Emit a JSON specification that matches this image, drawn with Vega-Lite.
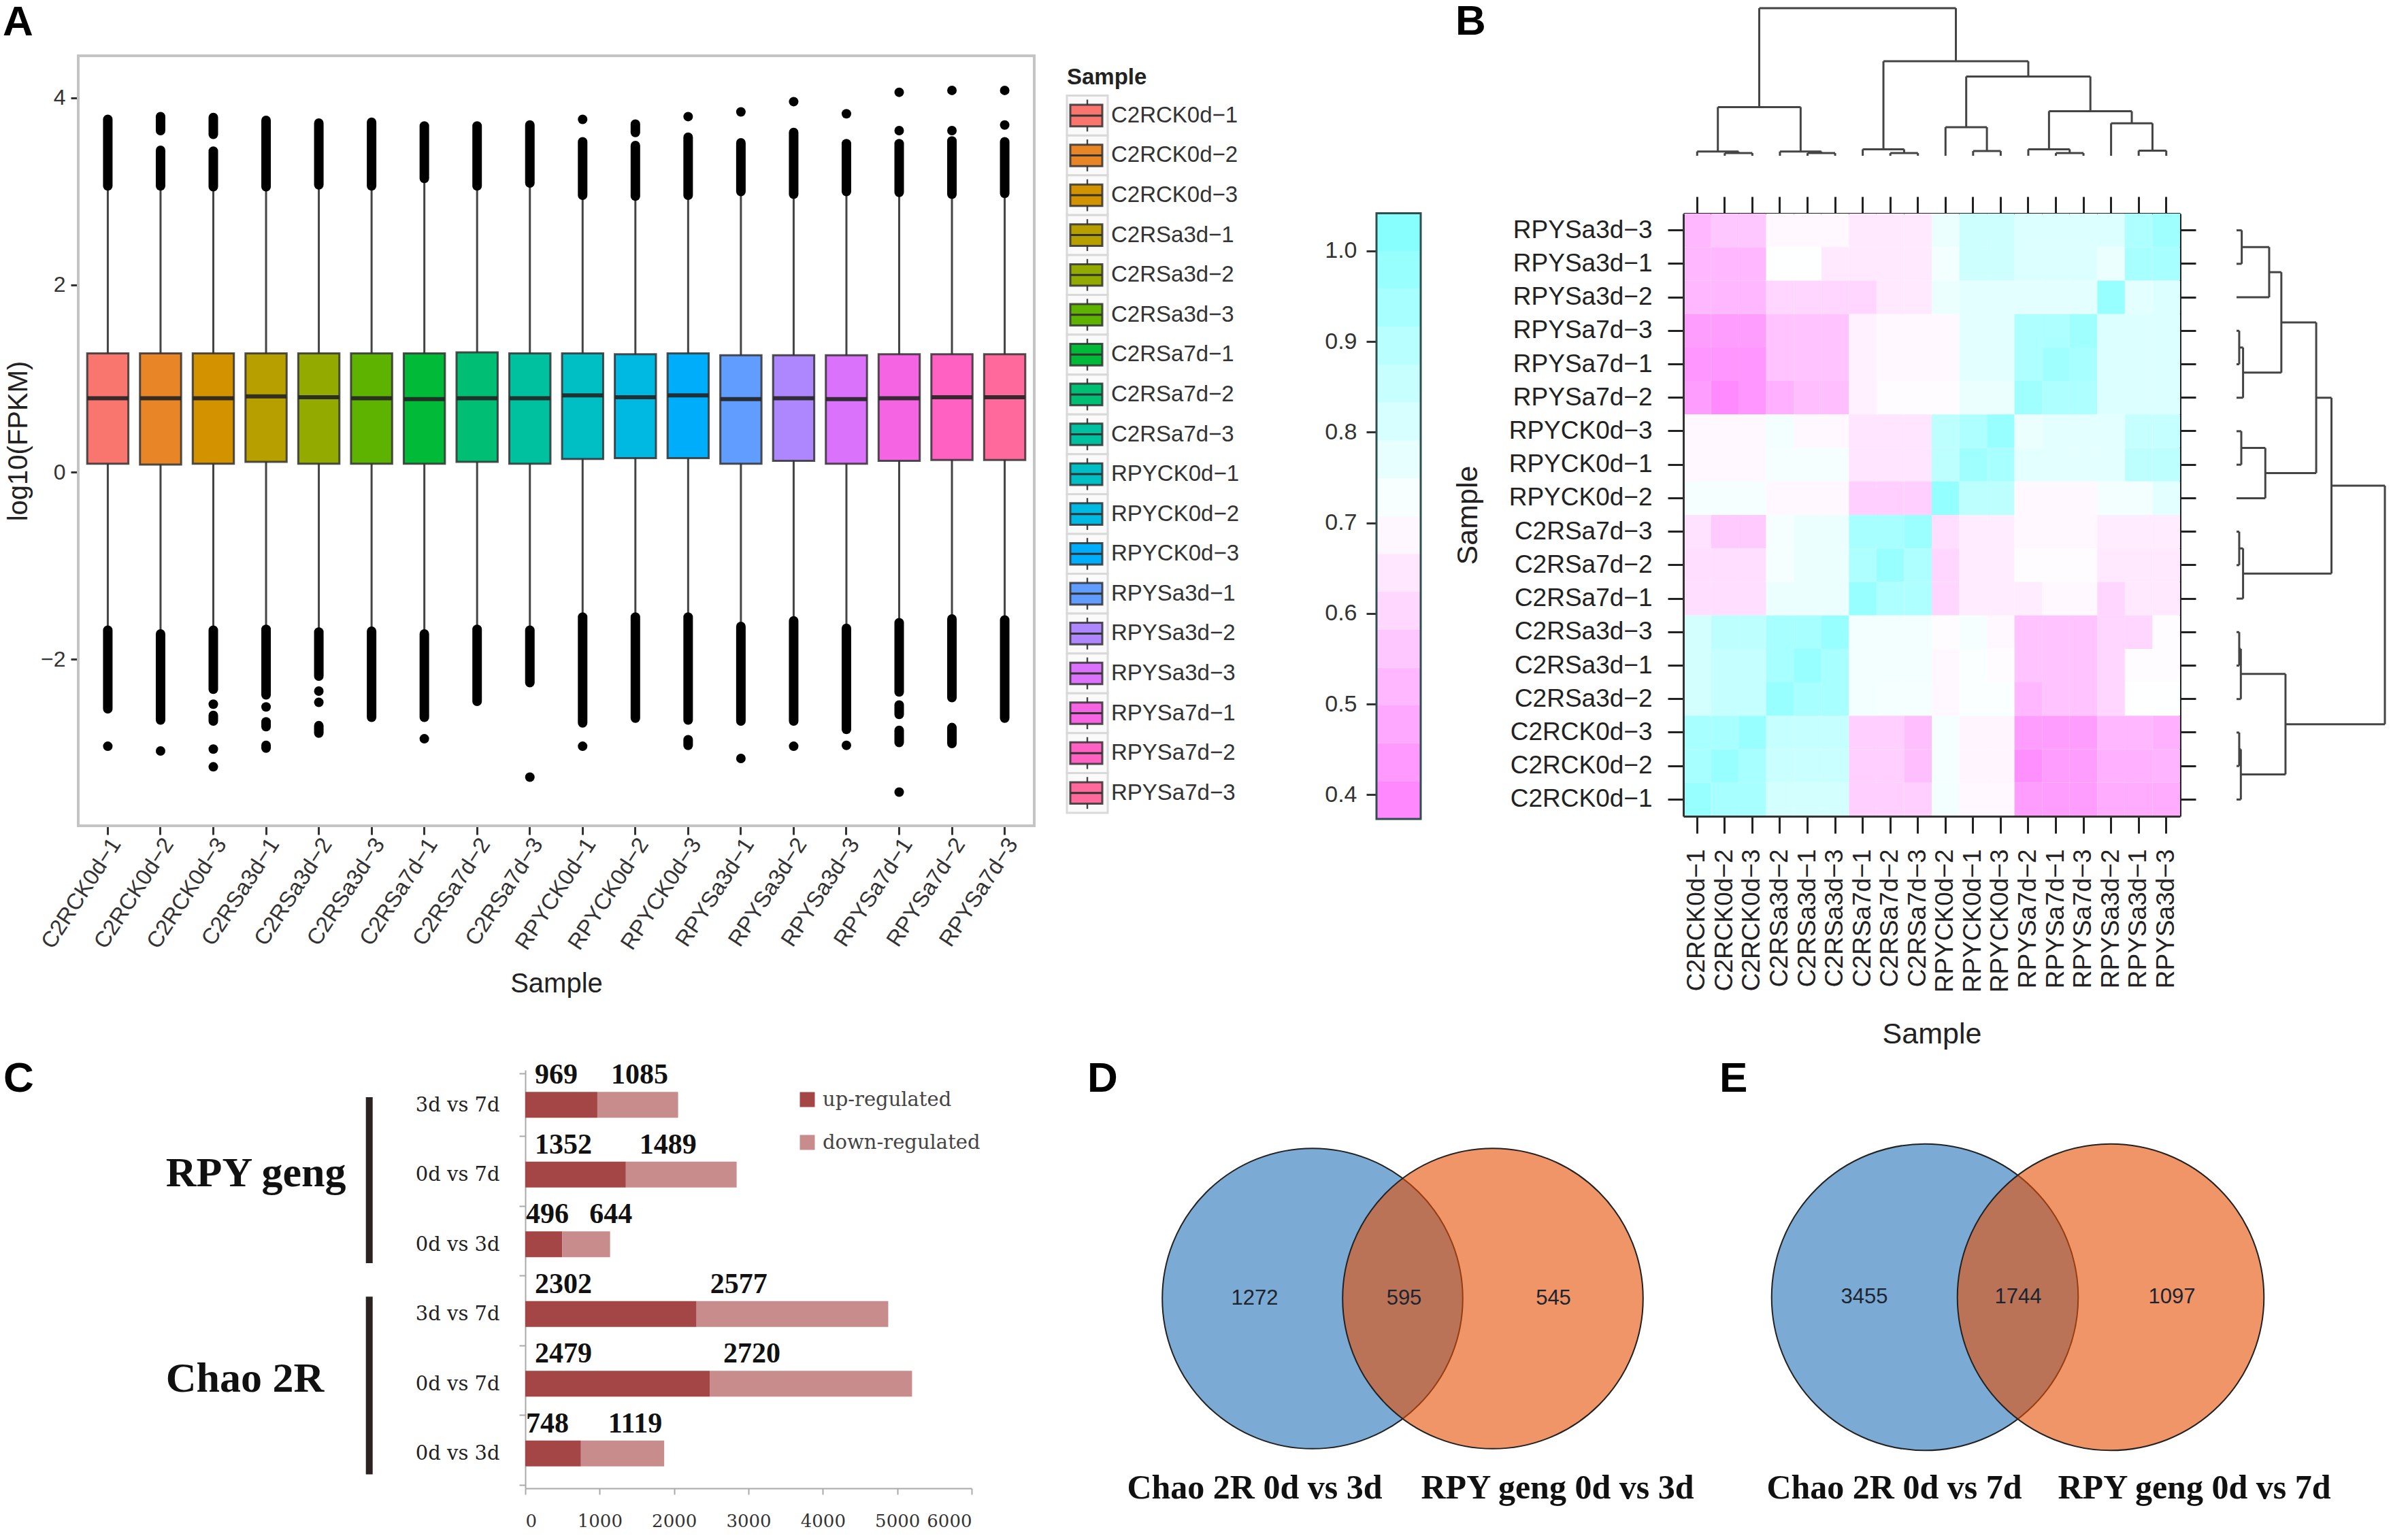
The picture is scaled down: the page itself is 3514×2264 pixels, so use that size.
{"$schema":"https://vega.github.io/schema/vega-lite/v6.json","background":"white","padding":{"left":4,"top":0,"right":0,"bottom":0},
"datasets":{
"box":[{"s":"C2RCK0d−1","lo":-1.69,"q1":0.09,"med":0.79,"q3":1.27,"hi":3.06},{"s":"C2RCK0d−2","lo":-1.73,"q1":0.08,"med":0.79,"q3":1.27,"hi":3.06},{"s":"C2RCK0d−3","lo":-1.69,"q1":0.09,"med":0.79,"q3":1.27,"hi":3.05},{"s":"C2RSa3d−1","lo":-1.68,"q1":0.11,"med":0.81,"q3":1.27,"hi":3.05},{"s":"C2RSa3d−2","lo":-1.71,"q1":0.09,"med":0.8,"q3":1.27,"hi":3.07},{"s":"C2RSa3d−3","lo":-1.7,"q1":0.09,"med":0.79,"q3":1.27,"hi":3.06},{"s":"C2RSa7d−1","lo":-1.73,"q1":0.09,"med":0.78,"q3":1.27,"hi":3.14},{"s":"C2RSa7d−2","lo":-1.68,"q1":0.11,"med":0.79,"q3":1.28,"hi":3.06},{"s":"C2RSa7d−3","lo":-1.69,"q1":0.09,"med":0.79,"q3":1.27,"hi":3.09},{"s":"RPYCK0d−1","lo":-1.55,"q1":0.14,"med":0.82,"q3":1.27,"hi":2.96},{"s":"RPYCK0d−2","lo":-1.55,"q1":0.15,"med":0.8,"q3":1.26,"hi":2.95},{"s":"RPYCK0d−3","lo":-1.55,"q1":0.15,"med":0.82,"q3":1.27,"hi":2.96},{"s":"RPYSa3d−1","lo":-1.65,"q1":0.09,"med":0.78,"q3":1.25,"hi":3.0},{"s":"RPYSa3d−2","lo":-1.59,"q1":0.12,"med":0.79,"q3":1.25,"hi":2.97},{"s":"RPYSa3d−3","lo":-1.67,"q1":0.09,"med":0.78,"q3":1.25,"hi":3.0},{"s":"RPYSa7d−1","lo":-1.61,"q1":0.12,"med":0.79,"q3":1.26,"hi":2.99},{"s":"RPYSa7d−2","lo":-1.57,"q1":0.13,"med":0.8,"q3":1.26,"hi":2.97},{"s":"RPYSa7d−3","lo":-1.58,"q1":0.13,"med":0.8,"q3":1.26,"hi":2.98}],
"stacks":[{"s":"C2RCK0d−1","a":3.06,"b":3.77},{"s":"C2RCK0d−1","a":-1.69,"b":-2.53},{"s":"C2RCK0d−2","a":3.65,"b":3.8},{"s":"C2RCK0d−2","a":3.06,"b":3.44},{"s":"C2RCK0d−2","a":-1.73,"b":-2.65},{"s":"C2RCK0d−3","a":3.61,"b":3.79},{"s":"C2RCK0d−3","a":3.05,"b":3.43},{"s":"C2RCK0d−3","a":-1.69,"b":-2.32},{"s":"C2RCK0d−3","a":-2.6,"b":-2.66},{"s":"C2RSa3d−1","a":3.05,"b":3.76},{"s":"C2RSa3d−1","a":-1.68,"b":-2.38},{"s":"C2RSa3d−1","a":-2.67,"b":-2.72},{"s":"C2RSa3d−1","a":-2.92,"b":-2.95},{"s":"C2RSa3d−2","a":3.07,"b":3.73},{"s":"C2RSa3d−2","a":-1.71,"b":-2.18},{"s":"C2RSa3d−2","a":-2.71,"b":-2.79},{"s":"C2RSa3d−3","a":3.06,"b":3.74},{"s":"C2RSa3d−3","a":-1.7,"b":-2.62},{"s":"C2RSa7d−1","a":3.14,"b":3.7},{"s":"C2RSa7d−1","a":-1.73,"b":-2.62},{"s":"C2RSa7d−2","a":3.06,"b":3.7},{"s":"C2RSa7d−2","a":-1.68,"b":-2.45},{"s":"C2RSa7d−3","a":3.09,"b":3.71},{"s":"C2RSa7d−3","a":-1.69,"b":-2.25},{"s":"RPYCK0d−1","a":2.96,"b":3.53},{"s":"RPYCK0d−1","a":-1.55,"b":-2.68},{"s":"RPYCK0d−2","a":3.63,"b":3.72},{"s":"RPYCK0d−2","a":2.95,"b":3.49},{"s":"RPYCK0d−2","a":-1.55,"b":-2.63},{"s":"RPYCK0d−3","a":2.96,"b":3.58},{"s":"RPYCK0d−3","a":-1.55,"b":-2.65},{"s":"RPYCK0d−3","a":-2.86,"b":-2.92},{"s":"RPYSa3d−1","a":3.0,"b":3.52},{"s":"RPYSa3d−1","a":-1.65,"b":-2.66},{"s":"RPYSa3d−2","a":2.97,"b":3.63},{"s":"RPYSa3d−2","a":-1.59,"b":-2.66},{"s":"RPYSa3d−3","a":3.0,"b":3.51},{"s":"RPYSa3d−3","a":-1.67,"b":-2.75},{"s":"RPYSa7d−1","a":2.99,"b":3.51},{"s":"RPYSa7d−1","a":-1.61,"b":-2.35},{"s":"RPYSa7d−1","a":-2.49,"b":-2.59},{"s":"RPYSa7d−1","a":-2.76,"b":-2.89},{"s":"RPYSa7d−2","a":2.97,"b":3.54},{"s":"RPYSa7d−2","a":-1.57,"b":-2.41},{"s":"RPYSa7d−2","a":-2.73,"b":-2.9},{"s":"RPYSa7d−3","a":2.98,"b":3.53},{"s":"RPYSa7d−3","a":-1.58,"b":-2.63}],
"pts":[{"s":"C2RCK0d−1","v":-2.93},{"s":"C2RCK0d−2","v":-2.98},{"s":"C2RCK0d−3","v":-2.48},{"s":"C2RCK0d−3","v":-2.96},{"s":"C2RCK0d−3","v":-3.15},{"s":"C2RSa3d−1","v":-2.51},{"s":"C2RSa3d−2","v":-2.34},{"s":"C2RSa3d−2","v":-2.46},{"s":"C2RSa7d−1","v":-2.85},{"s":"C2RSa7d−3","v":-3.26},{"s":"RPYCK0d−1","v":3.77},{"s":"RPYCK0d−1","v":-2.93},{"s":"RPYCK0d−3","v":3.8},{"s":"RPYSa3d−1","v":3.85},{"s":"RPYSa3d−1","v":-3.06},{"s":"RPYSa3d−2","v":3.96},{"s":"RPYSa3d−2","v":-2.93},{"s":"RPYSa3d−3","v":3.83},{"s":"RPYSa3d−3","v":-2.92},{"s":"RPYSa7d−1","v":4.06},{"s":"RPYSa7d−1","v":3.65},{"s":"RPYSa7d−1","v":-3.42},{"s":"RPYSa7d−2","v":4.08},{"s":"RPYSa7d−2","v":3.65},{"s":"RPYSa7d−3","v":4.08},{"s":"RPYSa7d−3","v":3.71}],
"tree":[{"a":1,"b":2,"c":1.8,"d":1.8},{"a":1,"b":1,"c":0,"d":1.8},{"a":2,"b":2,"c":0,"d":1.8},{"a":0,"b":1.5,"c":2.9,"d":2.9},{"a":0,"b":0,"c":0,"d":2.9},{"a":1.5,"b":1.5,"c":1.8,"d":2.9},{"a":4,"b":5,"c":1.8,"d":1.8},{"a":4,"b":4,"c":0,"d":1.8},{"a":5,"b":5,"c":0,"d":1.8},{"a":3,"b":4.5,"c":2.9,"d":2.9},{"a":3,"b":3,"c":0,"d":2.9},{"a":4.5,"b":4.5,"c":1.8,"d":2.9},{"a":0.75,"b":3.75,"c":33,"d":33},{"a":0.75,"b":0.75,"c":2.9,"d":33},{"a":3.75,"b":3.75,"c":2.9,"d":33},{"a":7,"b":8,"c":1.8,"d":1.8},{"a":7,"b":7,"c":0,"d":1.8},{"a":8,"b":8,"c":0,"d":1.8},{"a":6,"b":7.5,"c":4.4,"d":4.4},{"a":6,"b":6,"c":0,"d":4.4},{"a":7.5,"b":7.5,"c":1.8,"d":4.4},{"a":10,"b":11,"c":3.2,"d":3.2},{"a":10,"b":10,"c":0,"d":3.2},{"a":11,"b":11,"c":0,"d":3.2},{"a":9,"b":10.5,"c":19.4,"d":19.4},{"a":9,"b":9,"c":0,"d":19.4},{"a":10.5,"b":10.5,"c":3.2,"d":19.4},{"a":13,"b":14,"c":1.8,"d":1.8},{"a":13,"b":13,"c":0,"d":1.8},{"a":14,"b":14,"c":0,"d":1.8},{"a":12,"b":13.5,"c":4.4,"d":4.4},{"a":12,"b":12,"c":0,"d":4.4},{"a":13.5,"b":13.5,"c":1.8,"d":4.4},{"a":16,"b":17,"c":3.5,"d":3.5},{"a":16,"b":16,"c":0,"d":3.5},{"a":17,"b":17,"c":0,"d":3.5},{"a":15,"b":16.5,"c":22,"d":22},{"a":15,"b":15,"c":0,"d":22},{"a":16.5,"b":16.5,"c":3.5,"d":22},{"a":12.75,"b":15.75,"c":30.2,"d":30.2},{"a":12.75,"b":12.75,"c":4.4,"d":30.2},{"a":15.75,"b":15.75,"c":22,"d":30.2},{"a":9.75,"b":14.25,"c":53.7,"d":53.7},{"a":9.75,"b":9.75,"c":19.4,"d":53.7},{"a":14.25,"b":14.25,"c":30.2,"d":53.7},{"a":6.75,"b":12,"c":64,"d":64},{"a":6.75,"b":6.75,"c":4.4,"d":64},{"a":12,"b":12,"c":53.7,"d":64},{"a":2.25,"b":9.375,"c":100,"d":100},{"a":2.25,"b":2.25,"c":33,"d":100},{"a":9.375,"b":9.375,"c":64,"d":100}],
"heat":[
{"r":0,"c":0,"v":0.52},{"r":0,"c":1,"v":0.56},{"r":0,"c":2,"v":0.56},{"r":0,"c":3,"v":0.69},{"r":0,"c":4,"v":0.69},{"r":0,"c":5,"v":0.69},{"r":0,"c":6,"v":0.65},{"r":0,"c":7,"v":0.65},{"r":0,"c":8,"v":0.65},{"r":0,"c":9,"v":0.76},{"r":0,"c":10,"v":0.84},{"r":0,"c":11,"v":0.84},{"r":0,"c":12,"v":0.8},{"r":0,"c":13,"v":0.8},{"r":0,"c":14,"v":0.8},{"r":0,"c":15,"v":0.8},{"r":0,"c":16,"v":0.92},{"r":0,"c":17,"v":0.96},
{"r":1,"c":0,"v":0.52},{"r":1,"c":1,"v":0.52},{"r":1,"c":2,"v":0.52},{"r":1,"c":3,"v":0.71},{"r":1,"c":4,"v":0.71},{"r":1,"c":5,"v":0.65},{"r":1,"c":6,"v":0.65},{"r":1,"c":7,"v":0.65},{"r":1,"c":8,"v":0.65},{"r":1,"c":9,"v":0.74},{"r":1,"c":10,"v":0.84},{"r":1,"c":11,"v":0.84},{"r":1,"c":12,"v":0.8},{"r":1,"c":13,"v":0.8},{"r":1,"c":14,"v":0.8},{"r":1,"c":15,"v":0.76},{"r":1,"c":16,"v":0.94},{"r":1,"c":17,"v":0.94},
{"r":2,"c":0,"v":0.52},{"r":2,"c":1,"v":0.52},{"r":2,"c":2,"v":0.52},{"r":2,"c":3,"v":0.6},{"r":2,"c":4,"v":0.6},{"r":2,"c":5,"v":0.6},{"r":2,"c":6,"v":0.6},{"r":2,"c":7,"v":0.65},{"r":2,"c":8,"v":0.65},{"r":2,"c":9,"v":0.76},{"r":2,"c":10,"v":0.78},{"r":2,"c":11,"v":0.78},{"r":2,"c":12,"v":0.78},{"r":2,"c":13,"v":0.78},{"r":2,"c":14,"v":0.78},{"r":2,"c":15,"v":0.98},{"r":2,"c":16,"v":0.78},{"r":2,"c":17,"v":0.8},
{"r":3,"c":0,"v":0.45},{"r":3,"c":1,"v":0.45},{"r":3,"c":2,"v":0.45},{"r":3,"c":3,"v":0.55},{"r":3,"c":4,"v":0.55},{"r":3,"c":5,"v":0.55},{"r":3,"c":6,"v":0.67},{"r":3,"c":7,"v":0.69},{"r":3,"c":8,"v":0.69},{"r":3,"c":9,"v":0.69},{"r":3,"c":10,"v":0.78},{"r":3,"c":11,"v":0.78},{"r":3,"c":12,"v":0.92},{"r":3,"c":13,"v":0.92},{"r":3,"c":14,"v":0.96},{"r":3,"c":15,"v":0.8},{"r":3,"c":16,"v":0.8},{"r":3,"c":17,"v":0.8},
{"r":4,"c":0,"v":0.43},{"r":4,"c":1,"v":0.43},{"r":4,"c":2,"v":0.43},{"r":4,"c":3,"v":0.55},{"r":4,"c":4,"v":0.55},{"r":4,"c":5,"v":0.55},{"r":4,"c":6,"v":0.67},{"r":4,"c":7,"v":0.69},{"r":4,"c":8,"v":0.69},{"r":4,"c":9,"v":0.69},{"r":4,"c":10,"v":0.78},{"r":4,"c":11,"v":0.78},{"r":4,"c":12,"v":0.92},{"r":4,"c":13,"v":0.96},{"r":4,"c":14,"v":0.94},{"r":4,"c":15,"v":0.8},{"r":4,"c":16,"v":0.8},{"r":4,"c":17,"v":0.8},
{"r":5,"c":0,"v":0.45},{"r":5,"c":1,"v":0.4},{"r":5,"c":2,"v":0.43},{"r":5,"c":3,"v":0.5},{"r":5,"c":4,"v":0.54},{"r":5,"c":5,"v":0.54},{"r":5,"c":6,"v":0.67},{"r":5,"c":7,"v":0.7},{"r":5,"c":8,"v":0.7},{"r":5,"c":9,"v":0.7},{"r":5,"c":10,"v":0.76},{"r":5,"c":11,"v":0.76},{"r":5,"c":12,"v":0.96},{"r":5,"c":13,"v":0.92},{"r":5,"c":14,"v":0.92},{"r":5,"c":15,"v":0.8},{"r":5,"c":16,"v":0.8},{"r":5,"c":17,"v":0.8},
{"r":6,"c":0,"v":0.69},{"r":6,"c":1,"v":0.69},{"r":6,"c":2,"v":0.69},{"r":6,"c":3,"v":0.74},{"r":6,"c":4,"v":0.69},{"r":6,"c":5,"v":0.69},{"r":6,"c":6,"v":0.64},{"r":6,"c":7,"v":0.64},{"r":6,"c":8,"v":0.64},{"r":6,"c":9,"v":0.88},{"r":6,"c":10,"v":0.92},{"r":6,"c":11,"v":0.98},{"r":6,"c":12,"v":0.76},{"r":6,"c":13,"v":0.78},{"r":6,"c":14,"v":0.78},{"r":6,"c":15,"v":0.78},{"r":6,"c":16,"v":0.86},{"r":6,"c":17,"v":0.86},
{"r":7,"c":0,"v":0.69},{"r":7,"c":1,"v":0.69},{"r":7,"c":2,"v":0.69},{"r":7,"c":3,"v":0.73},{"r":7,"c":4,"v":0.73},{"r":7,"c":5,"v":0.73},{"r":7,"c":6,"v":0.64},{"r":7,"c":7,"v":0.64},{"r":7,"c":8,"v":0.64},{"r":7,"c":9,"v":0.88},{"r":7,"c":10,"v":0.96},{"r":7,"c":11,"v":0.94},{"r":7,"c":12,"v":0.78},{"r":7,"c":13,"v":0.78},{"r":7,"c":14,"v":0.78},{"r":7,"c":15,"v":0.78},{"r":7,"c":16,"v":0.88},{"r":7,"c":17,"v":0.88},
{"r":8,"c":0,"v":0.73},{"r":8,"c":1,"v":0.73},{"r":8,"c":2,"v":0.73},{"r":8,"c":3,"v":0.69},{"r":8,"c":4,"v":0.69},{"r":8,"c":5,"v":0.69},{"r":8,"c":6,"v":0.58},{"r":8,"c":7,"v":0.58},{"r":8,"c":8,"v":0.58},{"r":8,"c":9,"v":0.99},{"r":8,"c":10,"v":0.88},{"r":8,"c":11,"v":0.88},{"r":8,"c":12,"v":0.69},{"r":8,"c":13,"v":0.69},{"r":8,"c":14,"v":0.69},{"r":8,"c":15,"v":0.74},{"r":8,"c":16,"v":0.74},{"r":8,"c":17,"v":0.78},
{"r":9,"c":0,"v":0.63},{"r":9,"c":1,"v":0.57},{"r":9,"c":2,"v":0.57},{"r":9,"c":3,"v":0.73},{"r":9,"c":4,"v":0.76},{"r":9,"c":5,"v":0.76},{"r":9,"c":6,"v":0.94},{"r":9,"c":7,"v":0.94},{"r":9,"c":8,"v":0.97},{"r":9,"c":9,"v":0.62},{"r":9,"c":10,"v":0.66},{"r":9,"c":11,"v":0.66},{"r":9,"c":12,"v":0.69},{"r":9,"c":13,"v":0.69},{"r":9,"c":14,"v":0.69},{"r":9,"c":15,"v":0.66},{"r":9,"c":16,"v":0.66},{"r":9,"c":17,"v":0.66},
{"r":10,"c":0,"v":0.62},{"r":10,"c":1,"v":0.62},{"r":10,"c":2,"v":0.62},{"r":10,"c":3,"v":0.73},{"r":10,"c":4,"v":0.76},{"r":10,"c":5,"v":0.76},{"r":10,"c":6,"v":0.92},{"r":10,"c":7,"v":0.98},{"r":10,"c":8,"v":0.92},{"r":10,"c":9,"v":0.6},{"r":10,"c":10,"v":0.66},{"r":10,"c":11,"v":0.66},{"r":10,"c":12,"v":0.7},{"r":10,"c":13,"v":0.7},{"r":10,"c":14,"v":0.7},{"r":10,"c":15,"v":0.65},{"r":10,"c":16,"v":0.65},{"r":10,"c":17,"v":0.65},
{"r":11,"c":0,"v":0.62},{"r":11,"c":1,"v":0.62},{"r":11,"c":2,"v":0.62},{"r":11,"c":3,"v":0.76},{"r":11,"c":4,"v":0.76},{"r":11,"c":5,"v":0.76},{"r":11,"c":6,"v":0.98},{"r":11,"c":7,"v":0.92},{"r":11,"c":8,"v":0.92},{"r":11,"c":9,"v":0.6},{"r":11,"c":10,"v":0.66},{"r":11,"c":11,"v":0.66},{"r":11,"c":12,"v":0.66},{"r":11,"c":13,"v":0.69},{"r":11,"c":14,"v":0.69},{"r":11,"c":15,"v":0.6},{"r":11,"c":16,"v":0.65},{"r":11,"c":17,"v":0.65},
{"r":12,"c":0,"v":0.82},{"r":12,"c":1,"v":0.88},{"r":12,"c":2,"v":0.88},{"r":12,"c":3,"v":0.94},{"r":12,"c":4,"v":0.94},{"r":12,"c":5,"v":0.98},{"r":12,"c":6,"v":0.74},{"r":12,"c":7,"v":0.74},{"r":12,"c":8,"v":0.74},{"r":12,"c":9,"v":0.7},{"r":12,"c":10,"v":0.73},{"r":12,"c":11,"v":0.69},{"r":12,"c":12,"v":0.55},{"r":12,"c":13,"v":0.55},{"r":12,"c":14,"v":0.55},{"r":12,"c":15,"v":0.6},{"r":12,"c":16,"v":0.6},{"r":12,"c":17,"v":0.7},
{"r":13,"c":0,"v":0.82},{"r":13,"c":1,"v":0.86},{"r":13,"c":2,"v":0.86},{"r":13,"c":3,"v":0.94},{"r":13,"c":4,"v":0.98},{"r":13,"c":5,"v":0.94},{"r":13,"c":6,"v":0.74},{"r":13,"c":7,"v":0.74},{"r":13,"c":8,"v":0.74},{"r":13,"c":9,"v":0.69},{"r":13,"c":10,"v":0.72},{"r":13,"c":11,"v":0.7},{"r":13,"c":12,"v":0.55},{"r":13,"c":13,"v":0.55},{"r":13,"c":14,"v":0.55},{"r":13,"c":15,"v":0.6},{"r":13,"c":16,"v":0.7},{"r":13,"c":17,"v":0.7},
{"r":14,"c":0,"v":0.82},{"r":14,"c":1,"v":0.86},{"r":14,"c":2,"v":0.86},{"r":14,"c":3,"v":0.98},{"r":14,"c":4,"v":0.94},{"r":14,"c":5,"v":0.94},{"r":14,"c":6,"v":0.74},{"r":14,"c":7,"v":0.73},{"r":14,"c":8,"v":0.73},{"r":14,"c":9,"v":0.69},{"r":14,"c":10,"v":0.72},{"r":14,"c":11,"v":0.72},{"r":14,"c":12,"v":0.52},{"r":14,"c":13,"v":0.55},{"r":14,"c":14,"v":0.55},{"r":14,"c":15,"v":0.6},{"r":14,"c":16,"v":0.71},{"r":14,"c":17,"v":0.71},
{"r":15,"c":0,"v":0.94},{"r":15,"c":1,"v":0.94},{"r":15,"c":2,"v":0.98},{"r":15,"c":3,"v":0.86},{"r":15,"c":4,"v":0.86},{"r":15,"c":5,"v":0.86},{"r":15,"c":6,"v":0.58},{"r":15,"c":7,"v":0.58},{"r":15,"c":8,"v":0.54},{"r":15,"c":9,"v":0.73},{"r":15,"c":10,"v":0.68},{"r":15,"c":11,"v":0.68},{"r":15,"c":12,"v":0.45},{"r":15,"c":13,"v":0.45},{"r":15,"c":14,"v":0.45},{"r":15,"c":15,"v":0.52},{"r":15,"c":16,"v":0.52},{"r":15,"c":17,"v":0.5},
{"r":16,"c":0,"v":0.94},{"r":16,"c":1,"v":0.98},{"r":16,"c":2,"v":0.94},{"r":16,"c":3,"v":0.85},{"r":16,"c":4,"v":0.85},{"r":16,"c":5,"v":0.85},{"r":16,"c":6,"v":0.58},{"r":16,"c":7,"v":0.58},{"r":16,"c":8,"v":0.54},{"r":16,"c":9,"v":0.73},{"r":16,"c":10,"v":0.68},{"r":16,"c":11,"v":0.68},{"r":16,"c":12,"v":0.41},{"r":16,"c":13,"v":0.45},{"r":16,"c":14,"v":0.45},{"r":16,"c":15,"v":0.5},{"r":16,"c":16,"v":0.5},{"r":16,"c":17,"v":0.51},
{"r":17,"c":0,"v":0.98},{"r":17,"c":1,"v":0.94},{"r":17,"c":2,"v":0.94},{"r":17,"c":3,"v":0.82},{"r":17,"c":4,"v":0.82},{"r":17,"c":5,"v":0.82},{"r":17,"c":6,"v":0.58},{"r":17,"c":7,"v":0.58},{"r":17,"c":8,"v":0.58},{"r":17,"c":9,"v":0.74},{"r":17,"c":10,"v":0.69},{"r":17,"c":11,"v":0.69},{"r":17,"c":12,"v":0.45},{"r":17,"c":13,"v":0.45},{"r":17,"c":14,"v":0.45},{"r":17,"c":15,"v":0.49},{"r":17,"c":16,"v":0.49},{"r":17,"c":17,"v":0.49}],
"idx":[{"i":0},{"i":1},{"i":2},{"i":3},{"i":4},{"i":5},{"i":6},{"i":7},{"i":8},{"i":9},{"i":10},{"i":11},{"i":12},{"i":13},{"i":14},{"i":15},{"i":16},{"i":17}],
"lev":[{"lo":0.3732,"hi":0.415,"v":0.394},{"lo":0.415,"hi":0.4568,"v":0.436},{"lo":0.4568,"hi":0.4986,"v":0.478},{"lo":0.4986,"hi":0.5403,"v":0.52},{"lo":0.5403,"hi":0.5821,"v":0.561},{"lo":0.5821,"hi":0.6239,"v":0.603},{"lo":0.6239,"hi":0.6657,"v":0.645},{"lo":0.6657,"hi":0.7074,"v":0.687},{"lo":0.7074,"hi":0.7492,"v":0.728},{"lo":0.7492,"hi":0.791,"v":0.77},{"lo":0.791,"hi":0.8328,"v":0.812},{"lo":0.8328,"hi":0.8745,"v":0.854},{"lo":0.8745,"hi":0.9163,"v":0.895},{"lo":0.9163,"hi":0.9581,"v":0.937},{"lo":0.9581,"hi":0.9999,"v":0.979},{"lo":0.9999,"hi":1.0416,"v":1.021}],
"deg":[{"row":"RPY geng 3d vs 7d","dir":"up-regulated","n":969},{"row":"RPY geng 3d vs 7d","dir":"down-regulated","n":1085},{"row":"RPY geng 0d vs 7d","dir":"up-regulated","n":1352},{"row":"RPY geng 0d vs 7d","dir":"down-regulated","n":1489},{"row":"RPY geng 0d vs 3d","dir":"up-regulated","n":496},{"row":"RPY geng 0d vs 3d","dir":"down-regulated","n":644},{"row":"Chao 2R 3d vs 7d","dir":"up-regulated","n":2302},{"row":"Chao 2R 3d vs 7d","dir":"down-regulated","n":2577},{"row":"Chao 2R 0d vs 7d","dir":"up-regulated","n":2479},{"row":"Chao 2R 0d vs 7d","dir":"down-regulated","n":2720},{"row":"Chao 2R 0d vs 3d","dir":"up-regulated","n":748},{"row":"Chao 2R 0d vs 3d","dir":"down-regulated","n":1119}]
},
"vconcat":[
{"hconcat":[
{"width":1405,"height":1202,"title":{"text":"A","anchor":"start","frame":"group","dx":-111,"offset":-102,"baseline":"alphabetic","fontSize":62,"fontWeight":"bold","font":"Liberation Sans","color":"black"},
"layer":[
{"data":{"values":[{"k":1}]},"mark":{"type":"rect","fill":null,"stroke":"#c4c4c4","strokeWidth":4},"encoding":{"y":{"datum":-3.78,"type":"quantitative","scale":{"domain":[-3.78,4.45],"range":[1202,70],"nice":false,"zero":false},"axis":{"values":[-2,0,2,4],"format":"d","domain":false,"grid":false,"title":"log10(FPKM)","titleFontSize":40,"titleX":-88,"titleY":636,"titleBaseline":"middle","labelFontSize":32,"labelColor":"#333","tickSize":11,"tickWidth":3,"tickColor":"#333","titleColor":"#222","labelPadding":8}},"y2":{"datum":4.45}}},
{"data":{"name":"box"},"mark":{"type":"rule","stroke":"#444","strokeWidth":3},"encoding":{"x":{"field":"s","type":"nominal","sort":null,"scale":{"type":"band","paddingInner":0.22,"paddingOuter":0.17},"axis":{"title":"Sample","titleFontSize":40,"titleY":232,"titleBaseline":"middle","titleColor":"#222","labelAngle":-57,"labelAlign":"right","labelBaseline":"middle","labelFontSize":33,"labelLimit":0,"labelColor":"#333","tickSize":13,"tickWidth":3,"tickColor":"#333","domain":false,"labelPadding":8,"labelOffset":12}},"y":{"field":"lo","type":"quantitative"},"y2":{"field":"hi"}}},
{"data":{"name":"box"},"mark":{"type":"bar","stroke":"#333","strokeOpacity":0.85,"strokeWidth":3},"encoding":{"x":{"field":"s","type":"nominal","sort":null},"y":{"field":"q1","type":"quantitative"},"y2":{"field":"q3"},"fill":{"field":"s","type":"nominal","sort":null,"legend":null,"scale":{"range":["#F8766D","#E88526","#D39200","#B79F00","#93AA00","#5EB300","#00BA38","#00BF74","#00C19F","#00BFC4","#00B9E3","#00ADFA","#619CFF","#AE87FF","#DB72FB","#F564E3","#FF61C3","#FF699C"]}}}},
{"data":{"name":"box"},"mark":{"type":"tick","color":"#222","opacity":0.9,"thickness":6,"size":60},"encoding":{"x":{"field":"s","type":"nominal","sort":null},"y":{"field":"med","type":"quantitative"}}},
{"data":{"name":"stacks"},"mark":{"type":"rule","stroke":"black","strokeWidth":14,"strokeCap":"round"},"encoding":{"x":{"field":"s","type":"nominal","sort":null},"y":{"field":"a","type":"quantitative"},"y2":{"field":"b"}}},
{"data":{"name":"pts"},"mark":{"type":"point","filled":true,"fill":"black","opacity":1,"size":196,"shape":"circle"},"encoding":{"x":{"field":"s","type":"nominal","sort":null},"y":{"field":"v","type":"quantitative"}}}
],"resolve":{"scale":{"fill":"independent"}}},
{"width":48,"height":1,"data":{"values":[]},"mark":"point"},
{"width":60,"height":1183,"data":{"name":"box"},"title":{"text":"Sample","anchor":"start","frame":"group","dx":0,"offset":-145,"baseline":"alphabetic","fontSize":33,"fontWeight":"bold","font":"Liberation Sans","color":"#222"},
"encoding":{"y":{"field":"s","type":"nominal","sort":null,"axis":null,"scale":{"type":"band","range":[128.6,1183]}}},
"layer":[
{"mark":{"type":"rect","fill":"#fafafa","stroke":"#d9d9d9","strokeWidth":3},"encoding":{"x":{"datum":0,"type":"quantitative","scale":{"domain":[0,1],"nice":false,"zero":false},"axis":null},"x2":{"datum":1}}},
{"mark":{"type":"rect","fill":"#444","height":{"band":0.8}},"encoding":{"x":{"datum":0.48},"x2":{"datum":0.52}}},
{"mark":{"type":"rect","stroke":"#333","strokeOpacity":0.85,"strokeWidth":3,"height":{"band":0.54}},"encoding":{"x":{"datum":0.083},"x2":{"datum":0.867},"fill":{"field":"s","type":"nominal","sort":null,"legend":null,"scale":{"range":["#F8766D","#E88526","#D39200","#B79F00","#93AA00","#5EB300","#00BA38","#00BF74","#00C19F","#00BFC4","#00B9E3","#00ADFA","#619CFF","#AE87FF","#DB72FB","#F564E3","#FF61C3","#FF699C"]}}}},
{"mark":{"type":"rect","fill":"#333","height":3},"encoding":{"x":{"datum":0.083},"x2":{"datum":0.867}}},
{"mark":{"type":"text","align":"left","baseline":"middle","dx":5,"fontSize":33,"font":"Liberation Sans","fill":"#333"},"encoding":{"x":{"datum":1},"text":{"field":"s"}}}
]},
{"width":395,"height":1,"data":{"values":[]},"mark":"point"},
{"width":65,"height":1192,
"layer":[
{"data":{"name":"lev"},"mark":{"type":"rect"},"encoding":{"y":{"field":"lo","type":"quantitative","scale":{"domain":[0.3732,1.0416],"range":[1192,301.5],"nice":false,"zero":false},"axis":{"values":[0.4,0.5,0.6,0.7,0.8,0.9,1.0],"format":".1f","title":null,"domain":false,"labelFontSize":34,"labelColor":"#333","tickSize":15,"tickWidth":3,"tickColor":"#333","labelPadding":14}},"y2":{"field":"hi"},"color":{"field":"v","type":"quantitative","legend":null,"scale":{"domain":[0.3732,0.7074,1.0416],"range":["#FF80FF","#FFFFFF","#80FFFF"],"interpolate":"rgb"}}}},
{"data":{"values":[{"k":1}]},"mark":{"type":"rect","fill":null,"stroke":"#2f4f4f","strokeWidth":3},"encoding":{"y":{"datum":0.3732,"type":"quantitative"},"y2":{"datum":1.0416}}}
]},
{"width":386,"height":1,"data":{"values":[]},"mark":"point"},
{"width":730,"height":1188,"title":{"text":"B","anchor":"start","frame":"group","dx":-335,"offset":-102,"baseline":"alphabetic","fontSize":62,"fontWeight":"bold","font":"Liberation Sans","color":"black"},
"layer":[
{"data":{"name":"heat"},"mark":{"type":"rect"},"encoding":{"x":{"field":"c","type":"ordinal","sort":null,"scale":{"type":"band","domain":[0,1,2,3,4,5,6,7,8,9,10,11,12,13,14,15,16,17]},"axis":{"orient":"bottom","title":"Sample","titleFontSize":43,"titleY":320,"titleBaseline":"middle","titleColor":"#222","labelAngle":-90,"labelFontSize":37,"labelLimit":0,"labelColor":"#222","labelPadding":23,"tickSize":25,"tickWidth":3,"tickColor":"#222","domainColor":"#333","domainWidth":3,"labelExpr":"['C2RCK0d−1','C2RCK0d−2','C2RCK0d−3','C2RSa3d−2','C2RSa3d−1','C2RSa3d−3','C2RSa7d−1','C2RSa7d−2','C2RSa7d−3','RPYCK0d−2','RPYCK0d−1','RPYCK0d−3','RPYSa7d−2','RPYSa7d−1','RPYSa7d−3','RPYSa3d−2','RPYSa3d−1','RPYSa3d−3'][datum.value]"}},"y":{"field":"r","type":"ordinal","sort":null,"scale":{"type":"band","domain":[0,1,2,3,4,5,6,7,8,9,10,11,12,13,14,15,16,17],"range":[302,1188]},"axis":{"orient":"left","title":"Sample","titleFontSize":43,"titleX":-317,"titleY":745,"titleBaseline":"middle","titleColor":"#222","labelFontSize":37,"labelLimit":0,"labelColor":"#222","labelPadding":23,"tickSize":23,"tickWidth":3,"tickColor":"#222","domainColor":"#333","domainWidth":3,"labelExpr":"['RPYSa3d−3','RPYSa3d−1','RPYSa3d−2','RPYSa7d−3','RPYSa7d−1','RPYSa7d−2','RPYCK0d−3','RPYCK0d−1','RPYCK0d−2','C2RSa7d−3','C2RSa7d−2','C2RSa7d−1','C2RSa3d−3','C2RSa3d−1','C2RSa3d−2','C2RCK0d−3','C2RCK0d−2','C2RCK0d−1'][datum.value]"}},"color":{"field":"v","type":"quantitative","legend":null,"scale":{"domain":[0.3732,0.7074,1.0416],"range":["#FF80FF","#FFFFFF","#80FFFF"],"interpolate":"rgb"}}}},
{"data":{"name":"idx"},"mark":{"type":"point","opacity":0},"encoding":{"x":{"field":"i","type":"ordinal","sort":null,"scale":{"type":"band","domain":[0,1,2,3,4,5,6,7,8,9,10,11,12,13,14,15,16,17]},"axis":{"orient":"top","offset":-302,"title":null,"labels":false,"tickSize":25,"tickWidth":3,"tickColor":"#222","domainColor":"#222","domainWidth":3}},"y":{"field":"i","type":"ordinal","sort":null,"scale":{"type":"band","domain":[0,1,2,3,4,5,6,7,8,9,10,11,12,13,14,15,16,17],"range":[302,1188]},"axis":{"orient":"right","title":null,"labels":false,"tickSize":23,"tickWidth":3,"tickColor":"#222","domainColor":"#222","domainWidth":3}}}},
{"data":{"name":"tree"},"mark":{"type":"rule","stroke":"#444","strokeWidth":3},"encoding":{"x":{"field":"a","type":"quantitative","scale":{"domain":[-0.5,17.5],"nice":false,"zero":false},"axis":null},"x2":{"field":"b"},"y":{"field":"c","type":"quantitative","scale":{"domain":[0,100],"range":[217,0],"nice":false,"zero":false},"axis":null},"y2":{"field":"d"}}}
],"resolve":{"scale":{"x":"independent","y":"independent"},"axis":{"x":"independent","y":"independent"}}},
{"width":83,"height":1,"data":{"values":[]},"mark":"point"},
{"width":218,"height":1188,"data":{"name":"tree"},"mark":{"type":"rule","stroke":"#444","strokeWidth":3},"encoding":{"x":{"field":"c","type":"quantitative","scale":{"domain":[0,100],"nice":false,"zero":false},"axis":null},"x2":{"field":"d"},"y":{"field":"a","type":"quantitative","scale":{"domain":[-0.5,17.5],"range":[1188,302],"nice":false,"zero":false},"axis":null},"y2":{"field":"b"}}}
],"spacing":0,"bounds":"flush","resolve":{"scale":{"fill":"independent","color":"independent"}}},
{"hconcat":[
{"width":657,"height":615,"data":{"values":[{"name":"RPY geng","from":0.39,"to":2.77,"mid":1.48},{"name":"Chao 2R","from":3.25,"to":5.8,"mid":4.43}]},"title":{"text":"C","anchor":"start","frame":"group","dx":-110,"offset":-94,"baseline":"alphabetic","fontSize":62,"fontWeight":"bold","font":"Liberation Sans","color":"black"},
"layer":[
{"mark":{"type":"rule","stroke":"#2b2222","strokeWidth":10},"encoding":{"x":{"datum":0.651,"type":"quantitative","scale":{"domain":[0,1],"nice":false,"zero":false},"axis":null},"y":{"field":"from","type":"quantitative","scale":{"domain":[0,6],"reverse":true,"nice":false,"zero":false},"axis":null},"y2":{"field":"to"}}},
{"mark":{"type":"text","align":"left","baseline":"middle","font":"Liberation Serif","fontWeight":"bold","fontSize":62,"fill":"#111"},"encoding":{"x":{"datum":0.196},"y":{"field":"mid","type":"quantitative"},"text":{"field":"name"}}}
]},
{"width":656,"height":615,"data":{"name":"deg"},"transform":[{"stack":"n","groupby":["row"],"sort":[{"field":"dir","order":"descending"}],"as":["x0","x1"]}],
"layer":[
{"mark":{"type":"bar","height":{"band":0.41}},"encoding":{"x":{"field":"x0","type":"quantitative","scale":{"domain":[0,6000],"nice":false},"axis":{"values":[0,1000,2000,3000,4000,5000,6000],"title":null,"grid":false,"labelFont":"DejaVu Serif","labelFontSize":26,"labelColor":"#333","labelPadding":26,"tickSize":9,"tickColor":"#aaa","tickWidth":2,"domainColor":"#aaa","domainWidth":2,"format":"d"}},"x2":{"field":"x1"},"y":{"field":"row","type":"nominal","sort":null,"scale":{"type":"band","domain":["RPY geng 3d vs 7d","RPY geng 0d vs 7d","RPY geng 0d vs 3d","Chao 2R 3d vs 7d","Chao 2R 0d vs 7d","Chao 2R 0d vs 3d"]},"axis":{"title":null,"labelExpr":"slice(datum.label,-8)","labelFont":"DejaVu Serif","labelFontSize":29,"labelColor":"#222","labelPadding":29,"tickBand":"extent","tickSize":9,"tickColor":"#aaa","tickWidth":2,"domainColor":"#aaa","domainWidth":2}},"fill":{"field":"dir","type":"nominal","scale":{"domain":["up-regulated","down-regulated"],"range":["#A54646","#C88C8C"]},"legend":{"orient":"none","legendX":400,"legendY":29,"title":null,"symbolType":"square","symbolSize":484,"symbolStrokeWidth":0,"labelFont":"DejaVu Serif","labelFontSize":29,"labelLimit":0,"labelColor":"#444","labelOffset":8,"rowPadding":33}}}},
{"transform":[{"filter":"datum.dir=='up-regulated' && datum.n>=800"}],"mark":{"type":"text","align":"left","baseline":"middle","dx":14,"dy":-44,"font":"Liberation Serif","fontWeight":"bold","fontSize":42,"fill":"#111"},"encoding":{"x":{"datum":0},"y":{"field":"row","type":"nominal","sort":null},"text":{"field":"n"}}},
{"transform":[{"filter":"datum.dir=='up-regulated' && datum.n<800"}],"mark":{"type":"text","align":"left","baseline":"middle","dx":1,"dy":-44,"font":"Liberation Serif","fontWeight":"bold","fontSize":42,"fill":"#111"},"encoding":{"x":{"datum":0},"y":{"field":"row","type":"nominal","sort":null},"text":{"field":"n"}}},
{"transform":[{"filter":"datum.dir=='down-regulated' && datum.x0>=800"}],"mark":{"type":"text","align":"left","baseline":"middle","dx":20,"dy":-44,"font":"Liberation Serif","fontWeight":"bold","fontSize":42,"fill":"#111"},"encoding":{"x":{"field":"x0","type":"quantitative"},"y":{"field":"row","type":"nominal","sort":null},"text":{"field":"n"}}},
{"transform":[{"filter":"datum.dir=='down-regulated' && datum.x0<800"}],"mark":{"type":"text","align":"left","baseline":"middle","dx":40,"dy":-44,"font":"Liberation Serif","fontWeight":"bold","fontSize":42,"fill":"#111"},"encoding":{"x":{"field":"x0","type":"quantitative"},"y":{"field":"row","type":"nominal","sort":null},"text":{"field":"n"}}}
]},
{"width":1072,"height":615,"title":{"text":"D","anchor":"start","frame":"group","dx":170,"offset":-94,"baseline":"alphabetic","fontSize":62,"fontWeight":"bold","font":"Liberation Sans","color":"black"},
"layer":[
{"data":{"values":[{"set":"Chao 2R 0d vs 3d"},{"set":"RPY geng 0d vs 3d"}]},"mark":{"type":"point","shape":"circle","filled":true,"opacity":1,"size":195000,"stroke":"#222","strokeWidth":2},"encoding":{"x":{"field":"set","type":"nominal","sort":null,"axis":null,"scale":{"type":"point","padding":0,"range":[501,766]}},"y":{"datum":"diagram","type":"nominal","axis":null,"scale":{"type":"point","padding":0,"domain":["diagram","caption"],"range":[336,615]}},"fill":{"field":"set","type":"nominal","sort":null,"legend":null,"scale":{"range":["#7BABD4","rgba(228,78,3,0.6)"]}}}},
{"data":{"values":[{"set":"Chao 2R 0d vs 3d"},{"set":"RPY geng 0d vs 3d"}]},"mark":{"type":"text","baseline":"middle","font":"Liberation Serif","fontWeight":"bold","fontSize":50,"fill":"#111"},"encoding":{"x":{"field":"set","type":"nominal","sort":null,"axis":null,"scale":{"type":"point","padding":0,"range":[416,861]}},"y":{"datum":"caption","type":"nominal"},"text":{"field":"set"}}},
{"data":{"values":[{"region":"Chao 2R only","n":1272},{"region":"both","n":595},{"region":"RPY geng only","n":545}]},"mark":{"type":"text","baseline":"middle","font":"Liberation Sans","fontSize":31,"fill":"#1c2430"},"encoding":{"x":{"field":"region","type":"nominal","sort":null,"axis":null,"scale":{"type":"point","padding":0,"range":[416,855]}},"y":{"datum":"diagram","type":"nominal"},"text":{"field":"n"}}}
],"resolve":{"scale":{"x":"independent"}}},
{"width":920,"height":615,"title":{"text":"E","anchor":"start","frame":"group","dx":27,"offset":-94,"baseline":"alphabetic","fontSize":62,"fontWeight":"bold","font":"Liberation Sans","color":"black"},
"layer":[
{"data":{"values":[{"set":"Chao 2R 0d vs 7d"},{"set":"RPY geng 0d vs 7d"}]},"mark":{"type":"point","shape":"circle","filled":true,"opacity":1,"size":203000,"stroke":"#222","strokeWidth":2},"encoding":{"x":{"field":"set","type":"nominal","sort":null,"axis":null,"scale":{"type":"point","padding":0,"range":[329,602]}},"y":{"datum":"diagram","type":"nominal","axis":null,"scale":{"type":"point","padding":0,"domain":["diagram","caption"],"range":[334,615]}},"fill":{"field":"set","type":"nominal","sort":null,"legend":null,"scale":{"range":["#7BABD4","rgba(228,78,3,0.6)"]}}}},
{"data":{"values":[{"set":"Chao 2R 0d vs 7d"},{"set":"RPY geng 0d vs 7d"}]},"mark":{"type":"text","baseline":"middle","font":"Liberation Serif","fontWeight":"bold","fontSize":50,"fill":"#111"},"encoding":{"x":{"field":"set","type":"nominal","sort":null,"axis":null,"scale":{"type":"point","padding":0,"range":[284,725]}},"y":{"datum":"caption","type":"nominal"},"text":{"field":"set"}}},
{"data":{"values":[{"region":"Chao 2R only","n":3455},{"region":"both","n":1744},{"region":"RPY geng only","n":1097}]},"mark":{"type":"text","baseline":"middle","font":"Liberation Sans","fontSize":31,"fill":"#1c2430"},"encoding":{"x":{"field":"region","type":"nominal","sort":null,"axis":null,"scale":{"type":"point","padding":0,"range":[240,692]}},"y":{"datum":"diagram","type":"nominal"},"text":{"field":"n"}}}
],"resolve":{"scale":{"x":"independent"}}}
],"spacing":0,"bounds":"flush","resolve":{"scale":{"fill":"independent","color":"independent"}}}
],
"bounds":"flush","spacing":1561,
"resolve":{"scale":{"fill":"independent","color":"independent"}},
"config":{"view":{"stroke":null},"axis":{"labelFont":"Liberation Sans","titleFont":"Liberation Sans","titleFontWeight":"normal","grid":false},"title":{"fontWeight":"bold"}}
}
